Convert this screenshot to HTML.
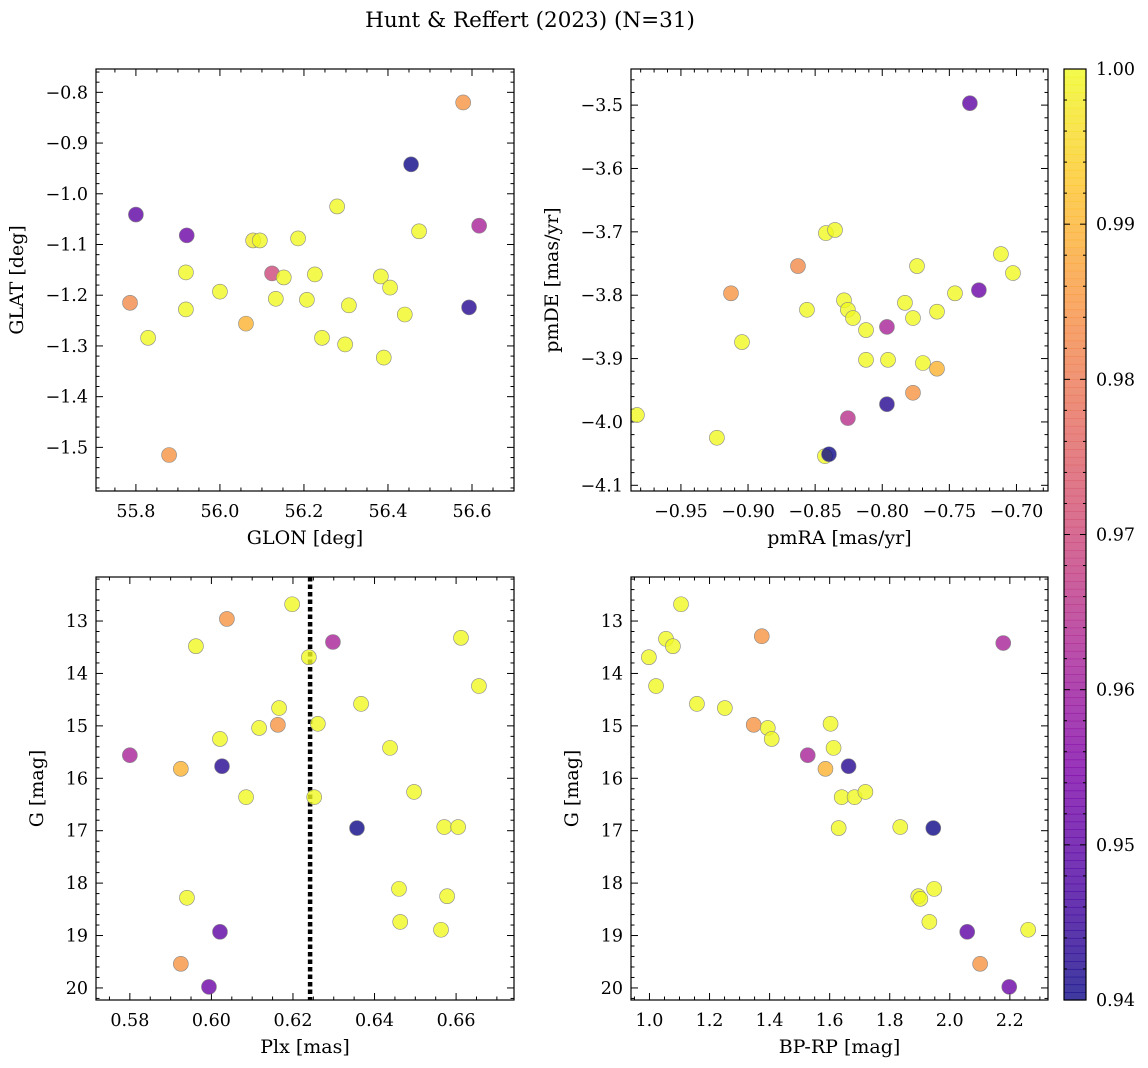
<!DOCTYPE html>
<html><head><meta charset="utf-8">
<style>
html,body{margin:0;padding:0;background:#fff;}
svg{display:block;font-family:"DejaVu Serif","Liberation Serif",serif;}
</style></head>
<body>
<svg id="fig" width="1148" height="1068" viewBox="0 0 1148 1068" xmlns="http://www.w3.org/2000/svg">
<text x="530" y="27" font-size="21.5" text-anchor="middle">Hunt &amp; Reffert (2023) (N=31)</text>
</svg>
<script>
// Panel 1: GLON vs GLAT
const glon1 = [56.579,56.455,55.800,55.921,56.617,56.279,56.079,56.095,56.186,56.474,55.919,56.124,56.152,56.226,56.000,56.383,56.405,55.786,56.133,56.207,56.307,55.919,56.593,56.062,56.440,55.829,56.243,56.298,56.390,55.879];
const glat1 = [-0.820,-0.942,-1.041,-1.082,-1.063,-1.025,-1.092,-1.092,-1.088,-1.074,-1.155,-1.157,-1.165,-1.159,-1.193,-1.163,-1.185,-1.215,-1.207,-1.209,-1.220,-1.228,-1.224,-1.256,-1.238,-1.284,-1.284,-1.297,-1.323,-1.515];
const prob1 = [0.985,0.94,0.95,0.952,0.962,1,0.998,1,1,1,1,0.97,1,1,1,1,1,0.983,1,1,1,1,0.943,0.99,1,1,1,1,1,0.985];
// Panel 2: pmRA vs pmDE
const pmra2 = [-0.7347,-0.842,-0.8352,-0.7741,-0.7116,-0.7026,-0.8628,-0.728,-0.7458,-0.7831,-0.7771,-0.8285,-0.8256,-0.8218,-0.8561,-0.9127,-0.9045,-0.8121,-0.7965,-0.7592,-0.8121,-0.7957,-0.7697,-0.7592,-0.7965,-0.7771,-0.8256,-0.9828,-0.9232,-0.8427,-0.8397];
const pmde2 = [-3.497,-3.702,-3.697,-3.754,-3.735,-3.765,-3.754,-3.792,-3.797,-3.812,-3.836,-3.808,-3.823,-3.836,-3.823,-3.797,-3.874,-3.855,-3.850,-3.826,-3.902,-3.902,-3.907,-3.916,-3.972,-3.954,-3.994,-3.989,-4.025,-4.054,-4.051];
const prob2 = [0.95,1,1,1,1,1,0.983,0.952,1,1,1,1,1,1,1,0.985,1,1,0.962,1,1,1,1,0.99,0.943,0.985,0.965,1,1,1,0.94];
// Panel 3: Plx vs G
const plx3 = [0.6198,0.6038,0.5962,0.6298,0.6239,0.6612,0.6656,0.6367,0.6166,0.6163,0.6261,0.6117,0.6021,0.5800,0.5925,0.6026,0.6438,0.6085,0.6252,0.6497,0.6357,0.6571,0.6605,0.6460,0.5940,0.6578,0.6021,0.6463,0.6563,0.5925,0.5994];
const g3 = [12.68,12.96,13.48,13.40,13.69,13.32,14.24,14.58,14.66,14.98,14.96,15.04,15.25,15.56,15.82,15.77,15.42,16.36,16.36,16.26,16.95,16.93,16.93,18.11,18.28,18.25,18.93,18.74,18.89,19.54,19.98];
const prob3 = [1,0.985,1,0.962,1,1,1,1,1,0.985,1,1,1,0.962,0.99,0.943,1,1,1,1,0.94,1,1,1,1,1,0.95,1,1,0.985,0.952];
const plxMean = [0.6242];
// Panel 4: BP-RP vs G
const bprp4 = [1.105,0.998,1.055,1.078,1.374,2.178,1.022,1.158,1.251,1.347,1.394,1.407,1.603,1.613,1.527,1.586,1.663,1.640,1.683,1.719,1.630,1.835,1.945,1.895,1.902,1.948,1.932,2.058,2.261,2.101,2.198];
const g4 = [12.68,13.69,13.34,13.48,13.29,13.42,14.24,14.58,14.66,14.98,15.04,15.25,14.96,15.42,15.56,15.82,15.77,16.36,16.36,16.26,16.95,16.93,16.95,18.25,18.30,18.11,18.74,18.93,18.89,19.54,19.98];
const prob4 = [1,1,1,1,0.985,0.962,1,1,1,0.985,1,1,1,1,0.962,0.99,0.943,1,1,1,1,1,0.94,1,1,1,1,0.95,1,0.985,0.952];
// Colorbar ticks
const cbarTicks = [0.94,0.95,0.96,0.97,0.98,0.99,1.00];

const NS="http://www.w3.org/2000/svg";
const svg=document.getElementById('fig');
function mk(tag,attrs,parent){const e=document.createElementNS(NS,tag);for(const k in attrs)e.setAttribute(k,attrs[k]);(parent||svg).appendChild(e);return e;}
const stops=['#0d0887','#4c02a1','#7e03a8','#a92395','#cc4778','#e56b5d','#f89441','#fdc328','#f0f921'];
function hex(h){return [1,3,5].map(i=>parseInt(h.substr(i,2),16));}
function plasma(t){t=Math.max(0,Math.min(1,t));const p=t*8,i=Math.min(7,Math.floor(p)),f=p-i;const a=hex(stops[i]),b=hex(stops[i+1]);return 'rgb('+a.map((v,k)=>Math.round(v+(b[k]-v)*f)).join(',')+')';}
const VMIN=0.94,VMAX=1.0;
const TF=17.5, LF=19;
function fmt(v,d){const s=Math.abs(v).toFixed(d);return (v<-1e-9?'\u2212':'')+s;}

function panel(cfg){
  const {name,x0,x1,y0,y1,xmin,xmax,ymin,ymax,invertY,xMaj,xMin,yMaj,yMin,xd,yd,xs,ys,ps,xlabel,ylabel,ylx}=cfg;
  const g=mk('g',{});
  
  
  const sx=v=>x0+(v-xmin)/(xmax-xmin)*(x1-x0);
  const sy=v=>invertY? y0+(v-ymin)/(ymax-ymin)*(y1-y0) : y1-(v-ymin)/(ymax-ymin)*(y1-y0);
  const eps=1e-9;
  const tg=mk('g',{stroke:'#000','stroke-width':1},g);
  for(let v=Math.ceil(xmin/xMin-eps)*xMin; v<=xmax+eps; v+=xMin){
    const isMaj=Math.abs(v/xMaj-Math.round(v/xMaj))<1e-6; const L=isMaj?7:3.5; const X=sx(v);
    mk('line',{x1:X,x2:X,y1:y1,y2:y1-L},tg); mk('line',{x1:X,x2:X,y1:y0,y2:y0+L},tg);
    if(isMaj){const t=mk('text',{x:X,y:y1+26,'font-size':TF,'text-anchor':'middle',stroke:'none'},g);t.textContent=fmt(v,xd);
      }
  }
  for(let v=Math.ceil(ymin/yMin-eps)*yMin; v<=ymax+eps; v+=yMin){
    const isMaj=Math.abs(v/yMaj-Math.round(v/yMaj))<1e-6; const L=isMaj?7:3.5; const Y=sy(v);
    mk('line',{x1:x0,x2:x0+L,y1:Y,y2:Y},tg); mk('line',{x1:x1,x2:x1-L,y1:Y,y2:Y},tg);
    if(isMaj){const t=mk('text',{x:x0-8,y:Y+6,'font-size':TF,'text-anchor':'end'},g);t.textContent=fmt(v,yd);
      }
  }
  const clipId=name+'-clip';
  const cp=mk('clipPath',{id:clipId},g); mk('rect',{x:x0,y:y0,width:x1-x0,height:y1-y0},cp);
  const pg=mk('g',{'clip-path':'url(#'+clipId+')'},g);
  if(cfg.vline){const X=sx(cfg.vline[0]);const l=mk('line',{x1:X,x2:X,y1:y0,y2:y1,stroke:'#000','stroke-width':4.5,'stroke-dasharray':'4.5,3'},pg);
    }
  for(let i=0;i<xs.length;i++){
    const c=mk('circle',{cx:sx(xs[i]),cy:sy(ys[i]),r:7.5,fill:plasma((ps[i]-VMIN)/(VMAX-VMIN)),'fill-opacity':0.8,stroke:'#888','stroke-width':0.6},pg);
    
    
  }
  const fr=mk('rect',{x:x0,y:y0,width:x1-x0,height:y1-y0,fill:'none',stroke:'#000','stroke-width':1.2},g);
  
  const xl=mk('text',{x:(x0+x1)/2,y:y1+53,'font-size':LF,'text-anchor':'middle'},g);xl.textContent=xlabel;
  
  const cy=(y0+y1)/2;
  const yl=mk('text',{x:ylx,y:cy,'font-size':LF,'text-anchor':'middle',transform:'rotate(-90 '+ylx+' '+cy+')'},g);yl.textContent=ylabel;
  
}

panel({name:'glon-glat-panel',x0:96,x1:514,y0:69,y1:491,xmin:55.705,xmax:56.70,ymin:-1.586,ymax:-0.754,xMaj:0.2,xMin:0.05,yMaj:0.1,yMin:0.02,xd:1,yd:1,xs:glon1,ys:glat1,ps:prob1,xlabel:'GLON [deg]',ylabel:'GLAT [deg]',ylx:23});
panel({name:'proper-motion-panel',x0:631,x1:1048,y0:69,y1:491,xmin:-0.9872,xmax:-0.6765,ymin:-4.109,ymax:-3.443,xMaj:0.05,xMin:0.01,yMaj:0.1,yMin:0.02,xd:2,yd:1,xs:pmra2,ys:pmde2,ps:prob2,xlabel:'pmRA [mas/yr]',ylabel:'pmDE [mas/yr]',ylx:558});
panel({name:'parallax-mag-panel',x0:96,x1:514,y0:577,y1:1000,xmin:0.5717,xmax:0.6742,ymin:12.16,ymax:20.23,invertY:true,xMaj:0.02,xMin:0.005,yMaj:1,yMin:0.2,xd:2,yd:0,xs:plx3,ys:g3,ps:prob3,xlabel:'Plx [mas]',ylabel:'G [mag]',ylx:43,vline:plxMean});
panel({name:'cmd-panel',x0:631,x1:1048,y0:577,y1:1000,xmin:0.9385,xmax:2.327,ymin:12.16,ymax:20.23,invertY:true,xMaj:0.2,xMin:0.05,yMaj:1,yMin:0.2,xd:1,yd:0,xs:bprp4,ys:g4,ps:prob4,xlabel:'BP-RP [mag]',ylabel:'G [mag]',ylx:578});

(function(){
  const cx0=1064,cx1=1086,cy0=69,cy1=1000;
  const g=mk('g',{});
  
  
  const n=120;
  for(let i=0;i<n;i++){
    const t=(i+0.5)/n;
    mk('rect',{x:cx0,y:cy1-(i+1)/n*(cy1-cy0),width:cx1-cx0,height:(cy1-cy0)/n+0.6,fill:plasma(t),'fill-opacity':0.8},g);
  }
  const sy=v=>cy1-(v-VMIN)/(VMAX-VMIN)*(cy1-cy0);
  for(let k=0;k<=30;k++){
    const v=VMIN+k*0.002; const Y=sy(v); const maj=k%5===0;
    mk('line',{x1:cx1,x2:cx1-(maj?6:3),y1:Y,y2:Y,stroke:'#000','stroke-width':1},g);
    mk('line',{x1:cx0,x2:cx0+(maj?6:3),y1:Y,y2:Y,stroke:'#000','stroke-width':1},g);
  }
  cbarTicks.forEach(v=>{const t=mk('text',{x:cx1+10,y:sy(v)+6,'font-size':TF},g);t.textContent=v.toFixed(2);
    });
  mk('rect',{x:cx0,y:cy0,width:cx1-cx0,height:cy1-cy0,fill:'none',stroke:'#000','stroke-width':1.2},g);
})();
</script>
</body></html>
